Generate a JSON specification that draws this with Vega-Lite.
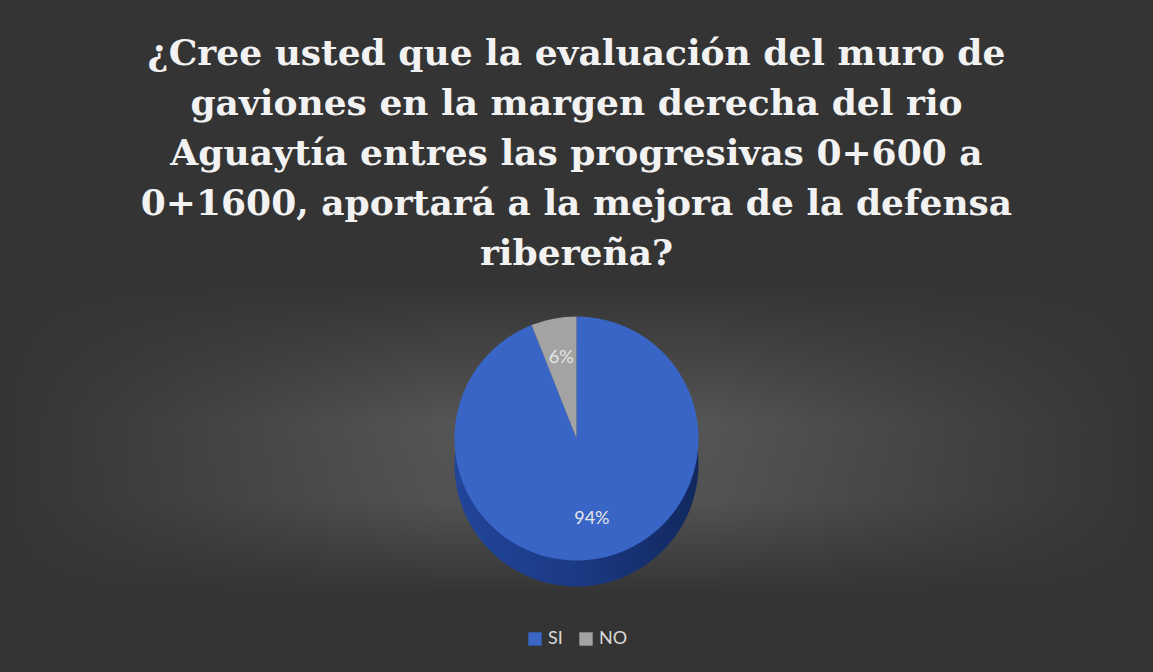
{
  "$schema": "https://vega.github.io/schema/vega-lite/v6.json",
  "width": 1153,
  "height": 672,
  "autosize": {"type": "fit", "contains": "padding"},
  "padding": {"top": 36, "bottom": 24, "left": 0, "right": 0},
  "background": "#343434",
  "title": {
    "text": [
      "¿Cree usted que la evaluación del muro de",
      "gaviones en la margen derecha del rio",
      "Aguaytía entres las progresivas 0+600 a",
      "0+1600, aportará a la mejora de la defensa",
      "ribereña?"
    ],
    "font": "DejaVu Serif",
    "fontSize": 36,
    "fontWeight": "bold",
    "lineHeight": 50,
    "color": "#f2f2f2",
    "anchor": "middle",
    "offset": 10
  },
  "data": {
    "values": [
      {"respuesta": "SI", "porcentaje": 94, "etiqueta": "94%"},
      {"respuesta": "NO", "porcentaje": 6, "etiqueta": "6%"}
    ]
  },
  "layer": [
    {
      "data": {"values": [{"fondo": 1}]},
      "mark": {
        "type": "rect",
        "color": {
          "gradient": "linear",
          "x1": 0, "y1": 0, "x2": 0, "y2": 1,
          "stops": [
            {"offset": 0, "color": "#343434"},
            {"offset": 0.45, "color": "#545454"},
            {"offset": 0.7, "color": "#525252"},
            {"offset": 1, "color": "#343434"}
          ]
        }
      },
      "encoding": {}
    },
    {
      "data": {"values": [{"fondo": 2}]},
      "mark": {
        "type": "rect",
        "color": {
          "gradient": "linear",
          "x1": 0, "y1": 0, "x2": 1, "y2": 0,
          "stops": [
            {"offset": 0, "color": "rgba(52,52,52,1)"},
            {"offset": 0.38, "color": "rgba(52,52,52,0)"},
            {"offset": 0.62, "color": "rgba(52,52,52,0)"},
            {"offset": 1, "color": "rgba(52,52,52,1)"}
          ]
        }
      },
      "encoding": {}
    },
    {
      "mark": {
        "type": "arc",
        "outerRadius": 122,
        "yOffset": 26,
        "color": {
          "gradient": "linear",
          "x1": 0, "y1": 0, "x2": 1, "y2": 0,
          "stops": [
            {"offset": 0, "color": "#22459a"},
            {"offset": 0.5, "color": "#1b3a84"},
            {"offset": 1, "color": "#12285e"}
          ]
        }
      },
      "encoding": {
        "theta": {"field": "porcentaje", "type": "quantitative", "stack": true}
      }
    },
    {
      "mark": {"type": "arc", "outerRadius": 122},
      "encoding": {
        "theta": {"field": "porcentaje", "type": "quantitative", "stack": true},
        "color": {
          "field": "respuesta",
          "type": "nominal",
          "sort": ["SI", "NO"],
          "scale": {"domain": ["SI", "NO"], "range": ["#3965c6", "#a3a3a3"]},
          "legend": {
            "title": null,
            "orient": "bottom",
            "direction": "horizontal",
            "symbolType": "square",
            "symbolSize": 180,
            "symbolStrokeWidth": 0,
            "labelColor": "#d9d9d9",
            "labelFont": "Lato",
            "labelFontSize": 18,
            "columnPadding": 14,
            "offset": 36
          }
        },
        "order": {"field": "porcentaje", "type": "quantitative", "sort": "descending"}
      }
    },
    {
      "mark": {"type": "text", "radius": 82, "font": "Lato", "fontSize": 18, "color": "#e6e6e6"},
      "encoding": {
        "theta": {"field": "porcentaje", "type": "quantitative", "stack": true},
        "text": {"field": "etiqueta", "type": "nominal"},
        "order": {"field": "porcentaje", "type": "quantitative", "sort": "descending"}
      }
    }
  ],
  "config": {
    "view": {"stroke": null},
    "legend": {"layout": {"bottom": {"anchor": "middle"}}}
  }
}
